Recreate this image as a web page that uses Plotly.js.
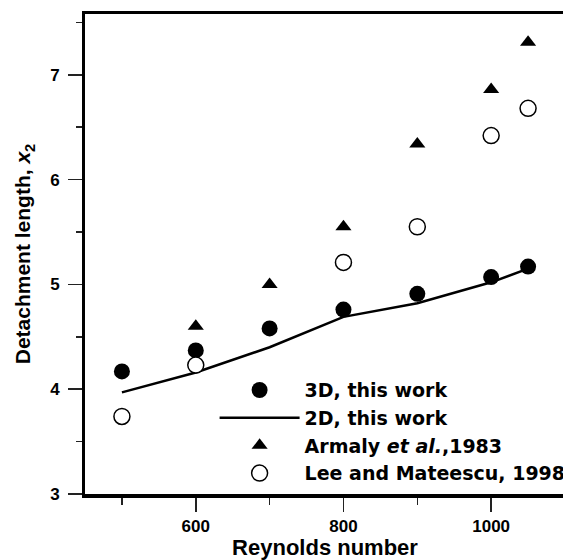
<!DOCTYPE html>
<html>
<head>
<meta charset="utf-8">
<script src="https://cdn.plot.ly/plotly-3.0.1.min.js"></script>
<style>
  html, body { margin: 0; padding: 0; overflow: hidden; background: #fff; }
  #chart { width: 600px; height: 560px; }
</style>
</head>
<body>
<div id="chart"></div>
<script>
// Reynolds numbers
const re3D = [500, 600, 700, 800, 900, 1000, 1050];
const val3D = [4.17, 4.37, 4.58, 4.76, 4.91, 5.07, 5.17];

const re2D = [500, 600, 700, 800, 900, 1000, 1050];
const val2D = [3.97, 4.16, 4.40, 4.69, 4.82, 5.02, 5.15];

const reArmaly = [600, 700, 800, 900, 1000, 1050];
const valArmaly = [4.60, 5.00, 5.55, 6.34, 6.86, 7.31];

const reLee = [500, 600, 800, 900, 1000, 1050];
const valLee = [3.74, 4.23, 5.21, 5.55, 6.42, 6.68];

const xTickVals = [600, 800, 1000];
const yTickVals = [3, 4, 5, 6, 7];

const FONT = 'Liberation Sans, Arial, Helvetica, sans-serif';
const LEGFONT = 'DejaVu Sans, Liberation Sans, Arial, sans-serif';

const traces = [
  {
    x: re3D, y: val3D, name: '3D, this work', mode: 'markers', type: 'scatter',
    marker: { symbol: 'circle', size: 16, color: '#000' }
  },
  {
    x: re2D, y: val2D, name: '2D, this work', mode: 'lines', type: 'scatter',
    line: { color: '#000', width: 2.5 }
  },
  {
    x: reArmaly, y: valArmaly, name: 'Armaly <i>et al.</i>,1983', mode: 'markers', type: 'scatter',
    marker: { symbol: 'triangle-up', size: 14, color: '#000' }
  },
  {
    x: reLee, y: valLee, name: 'Lee and Mateescu, 1998', mode: 'markers', type: 'scatter',
    marker: { symbol: 'circle', size: 16, color: '#fff', line: { color: '#000', width: 1.5 } }
  }
];

const layout = {
  width: 600, height: 560,
  margin: { l: 85, r: 35, t: 14, b: 66 },
  paper_bgcolor: '#fff', plot_bgcolor: '#fff',
  font: { family: FONT, color: '#000', size: 17, weight: 'bold' },
  showlegend: true,
  legend: {
    x: 0.27, xanchor: 'left', y: 0.256, yanchor: 'top',
    bgcolor: 'rgba(0,0,0,0)', borderwidth: 0,
    itemwidth: 80, tracegroupgap: 0,
    font: { family: LEGFONT, size: 19, color: '#000', weight: 'bold' }
  },
  xaxis: {
    range: [450, 1100],
    tickvals: xTickVals, ticktext: xTickVals.map(String),
    ticks: 'outside', ticklen: 14, tickwidth: 1.5, tickcolor: '#222',
    minor: { dtick: 100, tick0: 500, ticks: 'outside', ticklen: 7, tickwidth: 1.5, tickcolor: '#222' },
    showline: true, linecolor: '#000', linewidth: 3.5, mirror: true,
    showgrid: false, zeroline: false,
    tickfont: { family: FONT, size: 17, color: '#000', weight: 'bold' },
    ticklabelstandoff: 0,
    title: { text: 'Reynolds number', font: { family: FONT, size: 22, color: '#000', weight: 'bold' }, standoff: 8 }
  },
  yaxis: {
    range: [3, 7.58],
    tickvals: yTickVals, ticktext: yTickVals.map(String),
    ticks: 'outside', ticklen: 14, tickwidth: 1.5, tickcolor: '#222',
    minor: { dtick: 0.5, tick0: 3, ticks: 'outside', ticklen: 6, tickwidth: 1.5, tickcolor: '#222' },
    showline: true, linecolor: '#000', linewidth: 3, mirror: false,
    showgrid: false, zeroline: false,
    tickfont: { family: FONT, size: 17, color: '#000', weight: 'bold' },
    ticklabelstandoff: 5,
    title: { text: 'Detachment length, <i>x</i><sub>2</sub>', font: { family: FONT, size: 21, color: '#000', weight: 'bold' }, standoff: 14 }
  }
};

Plotly.newPlot('chart', traces, layout, { displayModeBar: false, staticPlot: true });
</script>
</body>
</html>
